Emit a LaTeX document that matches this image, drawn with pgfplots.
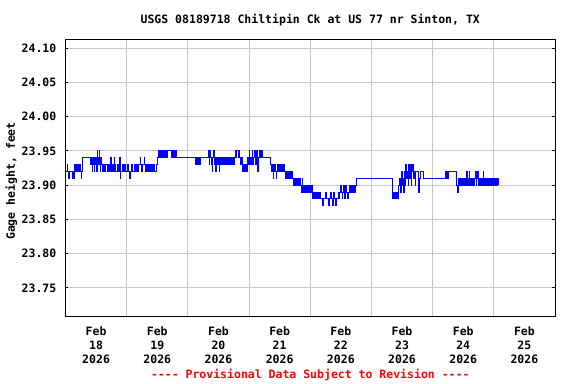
\documentclass[border=0pt]{standalone}
\usepackage{fontspec}
\setmonofont{DejaVu Sans Mono}
\usepackage{pgfplots}
\pgfplotsset{compat=1.18}
\definecolor{usgsblue}{RGB}{0,0,255}
\definecolor{gridgray}{RGB}{200,200,200}
\definecolor{provred}{RGB}{255,0,0}
\newcommand{\chartfont}{\fontsize{11.5bp}{13.6bp}\selectfont\ttfamily\bfseries}
\begin{document}
\begin{tikzpicture}
\begin{axis}[
  name=ax, scale only axis, width=489.5bp, height=276bp,
  xmin=0, xmax=192, ymin=23.709, ymax=24.112,
  axis line style={line width=1bp, black},
  xtick={12,36,60,84,108,132,156,180},
  xticklabels={{Feb\\18\\2026},{Feb\\19\\2026},{Feb\\20\\2026},{Feb\\21\\2026},{Feb\\22\\2026},{Feb\\23\\2026},{Feb\\24\\2026},{Feb\\25\\2026}},
  minor xtick={24,48,72,96,120,144,168},
  xmajorgrids=false, xminorgrids=true, ymajorgrids=true,
  grid style={line width=1bp, gridgray},
  minor grid style={line width=1bp, gridgray},
  ytick={23.75,23.80,23.85,23.90,23.95,24.00,24.05,24.10},
  /pgf/number format/fixed, /pgf/number format/fixed zerofill,
  /pgf/number format/precision=2, /pgf/number format/assume math mode=true,
  tick align=inside,
  xtick style={draw=none},
  minor tick length=0pt, major tick length=3bp,
  ytick style={line width=1bp, black},
  tick label style={font=\chartfont},
  xticklabel style={align=center, anchor=north, inner sep=0pt, yshift=-11bp},
  yticklabel style={anchor=east, inner sep=0pt, xshift=-9bp},
]
\addplot[const plot, color=usgsblue, line width=1bp] coordinates {
(0,23.92)(0.6,23.93)(0.9,23.92)(1.3,23.91)(1.6,23.92)(2.8,23.91)(3.1,23.92)(3.4,23.91)(3.7,23.93)(4.0,23.92)(4.3,23.93)(4.6,23.92)(4.9,23.93)(5.2,23.92)(5.5,23.93)(5.8,23.92)(6.1,23.91)(6.3,23.92)(6.6,23.94)
(9.9,23.93)(10.2,23.94)(10.4,23.92)(10.7,23.94)(10.9,23.93)(11.2,23.92)(11.4,23.94)(11.7,23.93)(11.9,23.94)(12.2,23.92)(12.4,23.95)(12.7,23.93)(12.9,23.94)(13.2,23.95)(13.4,23.93)(13.7,23.92)(13.9,23.94)(14.2,23.93)(14.4,23.92)(14.7,23.93)(14.9,23.92)(15.2,23.93)(15.5,23.92)
(15.8,23.93)(16.3,23.92)(16.8,23.93)(17.2,23.92)(17.7,23.94)(17.9,23.92)(18.4,23.93)(18.9,23.92)(19.1,23.94)(19.3,23.93)(19.8,23.92)(20.3,23.93)(20.8,23.92)(21.3,23.94)(21.5,23.91)(21.7,23.92)(22.2,23.93)(22.7,23.92)(23.2,23.93)(23.7,23.92)(24.2,23.93)(24.7,23.92)(25.2,23.91)(25.4,23.92)(25.9,23.93)(26.4,23.92)(26.9,23.93)(27.4,23.92)(27.9,23.93)(28.4,23.92)
(28.8,23.93)(29.3,23.94)(29.5,23.93)(30.0,23.92)(30.3,23.93)(30.8,23.94)(31.0,23.93)(31.5,23.92)(31.8,23.93)(32.3,23.92)(32.6,23.93)
(33.0,23.92)(33.4,23.93)(33.7,23.92)(34.1,23.93)(34.4,23.92)(34.8,23.93)(35.1,23.92)(35.5,23.93)
(36.0,23.94)(36.3,23.95)(36.6,23.94)(36.9,23.95)(37.2,23.94)(37.5,23.95)(37.8,23.94)(38.1,23.95)(38.4,23.94)(38.7,23.95)(39.0,23.94)(39.3,23.95)(39.6,23.94)(39.9,23.95)(41.5,23.94)(41.8,23.95)(42.1,23.94)(42.4,23.95)(42.7,23.94)(43.0,23.95)(43.4,23.94)
(50.9,23.93)(51.2,23.94)(51.4,23.93)(51.7,23.94)(52.3,23.93)(52.6,23.94)(52.8,23.93)(53.1,23.94)
(56.0,23.95)(56.3,23.93)(56.6,23.95)(56.9,23.94)(57.2,23.93)(57.5,23.92)(57.7,23.94)(58.0,23.95)(58.3,23.93)(58.6,23.94)(58.9,23.92)(59.1,23.93)(59.4,23.94)
(59.7,23.93)(60.0,23.94)(60.3,23.92)(60.5,23.93)(60.8,23.94)(61.1,23.93)(61.4,23.94)(61.7,23.93)(62.0,23.94)(62.3,23.93)(62.6,23.94)(62.9,23.93)(63.2,23.94)(63.5,23.93)(63.8,23.94)(64.1,23.93)(64.4,23.94)(64.7,23.93)(65.0,23.94)(65.3,23.93)(65.6,23.94)(65.9,23.93)(66.2,23.94)
(66.6,23.95)(66.9,23.94)(67.2,23.95)(67.8,23.94)(68.1,23.95)(68.4,23.94)(68.7,23.93)(69.0,23.94)
(69.3,23.92)(69.6,23.93)(69.9,23.92)(70.2,23.93)(70.5,23.92)(70.8,23.93)(71.1,23.92)
(71.4,23.94)(71.7,23.93)(72.0,23.95)(72.3,23.94)(72.6,23.93)(72.9,23.94)(73.2,23.95)(73.5,23.93)(73.8,23.94)(74.1,23.95)(74.4,23.94)(74.7,23.93)(75.0,23.95)
(75.4,23.92)(75.6,23.94)(75.9,23.95)(76.3,23.94)(76.6,23.95)(76.9,23.94)(77.1,23.95)(77.3,23.94)
(80.5,23.93)(80.8,23.92)(81.1,23.93)(81.4,23.91)(81.7,23.92)(82.0,23.93)(82.3,23.92)(82.6,23.91)(82.9,23.92)
(83.2,23.93)(83.5,23.92)(83.8,23.93)(84.1,23.92)(84.4,23.93)(84.7,23.92)(85.0,23.93)(85.3,23.92)(85.6,23.93)(85.9,23.92)
(86.2,23.91)(86.5,23.92)(86.8,23.91)(87.1,23.92)(87.4,23.91)(87.7,23.92)(88.0,23.91)(88.3,23.92)(88.6,23.91)(88.9,23.92)(89.2,23.91)
(89.5,23.90)(89.8,23.91)(90.3,23.90)(90.6,23.91)(91.0,23.90)(91.3,23.91)(91.6,23.90)(91.9,23.91)
(92.2,23.90)(92.5,23.89)(92.8,23.91)(93.1,23.89)(93.4,23.90)(93.7,23.89)(94.0,23.90)(94.3,23.89)(94.6,23.90)(94.9,23.89)(95.2,23.90)(95.5,23.89)(95.8,23.90)(96.1,23.89)(96.4,23.90)(96.7,23.89)
(97.0,23.88)(97.3,23.89)(97.6,23.88)(97.9,23.89)(98.2,23.88)(98.5,23.89)(98.8,23.88)(99.1,23.89)(99.4,23.88)(99.7,23.89)
(100.0,23.88)(100.9,23.87)(101.1,23.88)(102.0,23.89)(102.2,23.88)(103.2,23.87)(103.4,23.88)(104.0,23.89)(104.2,23.88)(104.8,23.87)(105.0,23.88)(105.3,23.89)(105.5,23.88)(106.0,23.87)(106.2,23.88)
(107.0,23.89)(107.3,23.88)(107.6,23.89)(107.9,23.90)(108.2,23.89)(108.5,23.88)(108.8,23.89)(109.1,23.90)(109.4,23.88)(109.7,23.89)(110.0,23.90)(110.3,23.89)(110.6,23.88)(110.9,23.89)(111.2,23.90)(111.5,23.89)(111.8,23.90)(112.1,23.89)(112.4,23.90)(112.7,23.89)(113.0,23.90)(113.3,23.89)(113.6,23.90)
(114.1,23.91)
(128.1,23.89)(128.4,23.88)(128.7,23.89)(129.0,23.88)(129.3,23.89)(129.6,23.88)(129.9,23.89)(130.2,23.88)(130.5,23.89)
(130.8,23.90)(131.1,23.91)(131.4,23.89)(131.7,23.92)(132.0,23.90)(132.3,23.91)(132.6,23.89)(132.9,23.92)(133.2,23.90)(133.5,23.93)(133.8,23.91)(134.1,23.92)(134.4,23.90)(134.7,23.93)(135.0,23.91)(135.3,23.93)(135.6,23.90)(135.9,23.92)(136.2,23.93)(136.5,23.91)(136.8,23.92)(137.1,23.90)(137.4,23.92)
(138.6,23.89)(138.8,23.91)(139.2,23.92)(140.4,23.91)
(149.1,23.92)(149.4,23.91)(149.7,23.92)(150.0,23.91)(150.3,23.92)
(153.4,23.90)(153.7,23.89)(154.0,23.90)
(154.3,23.91)(154.6,23.90)(154.9,23.91)(155.2,23.90)(155.5,23.91)(155.8,23.90)(156.1,23.91)(156.4,23.90)(156.7,23.91)(157.0,23.90)(157.3,23.92)(157.5,23.91)(157.8,23.90)(158.1,23.91)(158.3,23.92)(158.5,23.90)(158.8,23.91)(159.1,23.90)(159.4,23.91)(159.7,23.90)(160.0,23.91)(160.3,23.90)(160.6,23.91)(160.9,23.92)(161.1,23.90)(161.4,23.91)(161.6,23.92)(161.8,23.90)(162.1,23.91)(162.4,23.90)(162.7,23.91)(163.0,23.90)(163.3,23.91)(163.6,23.90)(163.9,23.92)(164.1,23.91)(164.4,23.90)(164.7,23.91)(165.0,23.90)(165.3,23.91)(165.6,23.90)(165.9,23.91)(166.2,23.90)(166.5,23.91)(166.8,23.90)(167.1,23.91)(167.4,23.90)(167.7,23.91)(168.0,23.90)(168.3,23.91)(168.6,23.90)(168.9,23.91)(169.2,23.90)(169.5,23.91)(169.8,23.90)
};
\end{axis}
\node[font=\chartfont, inner sep=0pt, anchor=center] at ([yshift=20bp]ax.north) {USGS 08189718 Chiltipin Ck at US 77 nr Sinton, TX};
\node[font=\chartfont, inner sep=0pt, anchor=center, rotate=90] at ([xshift=-54bp,yshift=-3bp]ax.west) {Gage height, feet};
\node[font=\chartfont, text=provred, inner sep=0pt, anchor=center] at ([yshift=-59bp]ax.south) {---- Provisional Data Subject to Revision ----};
\pgfresetboundingbox
\path[use as bounding box] ([xshift=-65.5bp,yshift=-68bp]ax.south west) rectangle ([xshift=21bp,yshift=40bp]ax.north east);
\end{tikzpicture}
\end{document}
